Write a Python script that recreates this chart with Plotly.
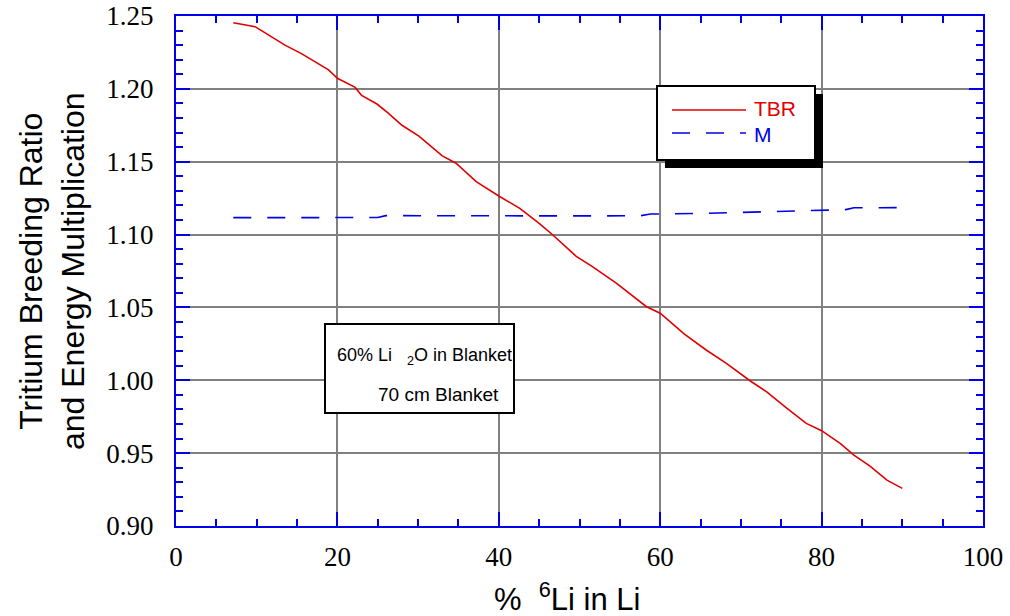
import plotly.graph_objects as go

# ---- data ----
tbr_x = [7.1, 9.8, 10.6, 12.3, 13.5, 15.6, 17.2, 18.9, 20.0, 22.2, 23.0, 24.9, 26.3, 28.0,
         30.1, 33.0, 34.7, 37.2, 40.0, 42.6, 45.0, 46.7, 49.6, 51.6, 54.6,
         58.3, 60.0, 63.0, 65.7, 68.2, 71.3, 73.2, 75.6, 78.1,
         80.0, 82.3, 84.0, 86.0, 88.1, 90.0]
tbr_y = [1.2454, 1.2427, 1.2400, 1.2340, 1.2300, 1.2240, 1.2186, 1.2130, 1.2073, 1.2010,
         1.1955, 1.1896, 1.1834, 1.1750, 1.1676, 1.1540, 1.1490, 1.1363, 1.1265, 1.1180,
         1.1077, 1.0997, 1.0850, 1.0780, 1.0665, 1.0505, 1.0460, 1.0317, 1.0208, 1.0116,
         0.9990, 0.9921, 0.9812, 0.9704, 0.9654, 0.9567, 0.9487, 0.9411, 0.9315, 0.9258]

m_x = [7.1, 15, 20, 25.0, 26.0, 35, 45, 50, 57.5, 58.8, 65, 70.7, 75, 79, 83.0, 84.0, 90.1]
m_y = [1.1116, 1.1116, 1.1116, 1.1117, 1.1130, 1.1128, 1.1128, 1.1128, 1.1129, 1.1141,
       1.1145, 1.1153, 1.1160, 1.1169, 1.1171, 1.1184, 1.1185]

series_names = ["TBR", "M"]
x_range = [0, 100]
y_range = [0.90, 1.25]
x_title = "%  <sup>6</sup>Li in Li"
y_title = "Tritium Breeding Ratio<br>and Energy Multiplication"
note_lines = ["60% Li   <sub>2</sub>O in Blanket", "70 cm Blanket"]

RED = "#e00000"
BLUE = "#0000e6"
GRID = "#808080"
M_DASH = "18px,16px"

fig = go.Figure()
fig.add_trace(go.Scatter(x=tbr_x, y=tbr_y, mode="lines", name=series_names[0],
                         line=dict(color=RED, width=1.6), showlegend=False))
fig.add_trace(go.Scatter(x=m_x, y=m_y, mode="lines", name=series_names[1],
                         line=dict(color=BLUE, width=1.6, dash=M_DASH), showlegend=False))

L, R, T, B = 176, 27, 16, 90
W, H = 1010, 616
pw, ph = W - L - R, H - T - B

def px(x):
    return (x - L) / pw

def py(y):
    return 1 - (y - T) / ph

SANS = "Liberation Sans, Arial, sans-serif"
SERIF = "Liberation Serif, Times New Roman, serif"

axis_common = dict(
    showline=True, linecolor=BLUE, linewidth=2, mirror="ticks",
    ticks="inside", ticklen=14, tickwidth=2, tickcolor=BLUE,
    showgrid=True, gridcolor=GRID, gridwidth=2, zeroline=False,
    automargin=False,
    tickfont=dict(family=SERIF, size=27, color="black"),
)

fig.update_xaxes(range=x_range, dtick=20, tick0=0,
                 minor=dict(dtick=5, ticks="inside", ticklen=7, tickwidth=2, tickcolor=BLUE, showgrid=False),
                 ticklabelstandoff=6,
                 **axis_common)
fig.update_yaxes(range=y_range, dtick=0.05, tick0=0.9, tickformat=".2f",
                 minor=dict(dtick=0.01, ticks="inside", ticklen=7, tickwidth=2, tickcolor=BLUE, showgrid=False),
                 ticklabelstandoff=15,
                 **axis_common)

shapes = [
    # legend shadow + box
    dict(type="rect", xref="paper", yref="paper", x0=px(665), x1=px(823), y0=py(168), y1=py(94),
         fillcolor="black", line=dict(width=0), layer="above"),
    dict(type="rect", xref="paper", yref="paper", x0=px(657), x1=px(815), y0=py(160), y1=py(86),
         fillcolor="white", line=dict(color="black", width=2), layer="above"),
    # legend samples
    dict(type="line", xref="paper", yref="paper", x0=px(672), x1=px(746), y0=py(110), y1=py(110),
         line=dict(color=RED, width=1.6), layer="above"),
    dict(type="line", xref="paper", yref="paper", x0=px(672), x1=px(746), y0=py(133), y1=py(133),
         line=dict(color=BLUE, width=1.6, dash=M_DASH), layer="above"),
    # annotation box
    dict(type="rect", xref="paper", yref="paper", x0=px(325), x1=px(514), y0=py(413), y1=py(324),
         fillcolor="white", line=dict(color="black", width=2), layer="above"),
]

note_font = dict(family=SANS, size=18, color="black")
title_font = dict(family=SANS, size=32, color="black")
annotations = [
    dict(xref="paper", yref="paper", x=px(424), y=py(356), text=note_lines[0],
         showarrow=False, font=note_font, xanchor="center", yanchor="middle"),
    dict(xref="paper", yref="paper", x=px(438), y=py(394), text=note_lines[1],
         showarrow=False, font=dict(family=SANS, size=19, color="black"), xanchor="center", yanchor="middle"),
    dict(xref="paper", yref="paper", x=px(753), y=py(121.5), text=series_names[0],
         showarrow=False, font=dict(family=SANS, size=21, color=RED), xanchor="left", yanchor="bottom",
         borderpad=0),
    dict(xref="paper", yref="paper", x=px(753), y=py(122), text=series_names[1],
         showarrow=False, font=dict(family=SANS, size=21, color=BLUE), xanchor="left", yanchor="top",
         borderpad=0),
    dict(xref="paper", yref="paper", x=px(52), y=py(271), text=y_title, textangle=-90,
         showarrow=False, font=title_font, xanchor="center", yanchor="middle"),
    dict(xref="paper", yref="paper", x=px(567), y=py(597), text=x_title,
         showarrow=False, font=dict(family=SANS, size=31, color="black"), xanchor="center", yanchor="middle"),
]

fig.update_layout(
    width=W, height=H, autosize=False,
    margin=dict(l=L, r=R, t=T, b=B, pad=0),
    paper_bgcolor="white", plot_bgcolor="white",
    showlegend=False,
    shapes=shapes, annotations=annotations,
)

fig.write_html("out.html")
